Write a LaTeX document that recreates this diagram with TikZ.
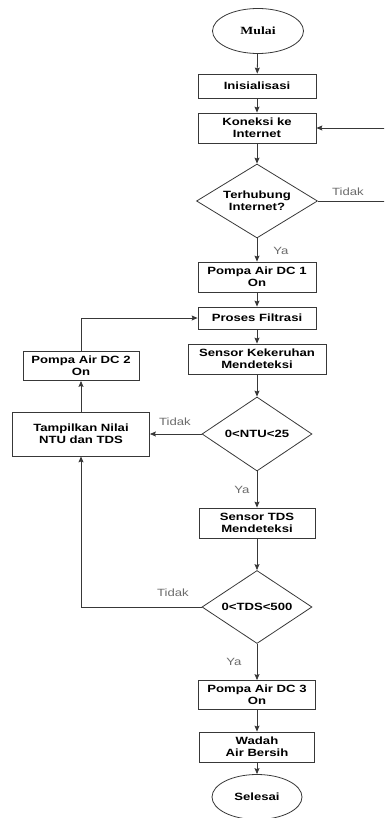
\documentclass[tikz,border=0pt]{standalone}
\usepackage{fontspec}
\usepackage{tikz}
\usetikzlibrary{shapes,arrows,positioning,calc,arrows.meta}
\newfontfamily\kotakfont[FakeStretch=1.25]{Liberation Sans}
\newfontfamily\serifkotak[FakeStretch=1.25]{Liberation Serif}
\definecolor{garis}{gray}{0.22}
\definecolor{teksabu}{gray}{0.42}
\tikzset{
  proses/.style={draw=garis, line width=0.8pt, rectangle, align=center, inner sep=1pt,
    font=\kotakfont\bfseries\fontsize{10.5}{12}\selectfont},
  keputusan/.style={draw=garis, line width=0.8pt, diamond, shape aspect=1.6, align=center,
    inner sep=0pt, font=\kotakfont\bfseries\fontsize{10.5}{12}\selectfont},
  terminal/.style={draw=garis, line width=0.8pt, ellipse, minimum width=91pt, minimum height=45pt,
    font=\kotakfont\bfseries\fontsize{10.5}{12}\selectfont},
  alur/.style={draw=garis, line width=0.8pt, -{Stealth[length=6pt,width=5pt,inset=1pt]}},
  ket/.style={text=teksabu, font=\kotakfont\fontsize{10.5}{12}\selectfont}
}
\begin{document}
\begin{tikzpicture}[x=1pt, y=-1pt]
    \useasboundingbox (0,0) rectangle (384,818);
    \clip (0,0) rectangle (384,818);

    % kolom utama
    \node[terminal, font=\serifkotak\bfseries\fontsize{11}{12}\selectfont] (mulai) at (258,31) {Mulai};
    \node[proses, minimum width=118pt, minimum height=24pt] (init) at (257,86) {Inisialisasi};
    \node[proses, minimum width=118pt, minimum height=30pt] (koneksi) at (257,128) {Koneksi ke\\Internet};
    \node[keputusan, minimum width=121pt, minimum height=74pt] (cekinet) at (257,201) {Terhubung\\Internet?};
    \node[proses, minimum width=118pt, minimum height=30pt] (pompa1) at (257,277) {Pompa Air DC 1\\On};
    \node[proses, minimum width=118pt, minimum height=22pt] (filtrasi) at (257,318) {Proses Filtrasi};
    \node[proses, minimum width=138pt, minimum height=30pt] (kekeruhan) at (257,359) {Sensor Kekeruhan\\Mendeteksi};
    \node[keputusan, minimum width=110pt, minimum height=74pt] (ceknt) at (257,434) {0<NTU<25};
    \node[proses, minimum width=116pt, minimum height=30pt] (tds) at (257,523) {Sensor TDS\\Mendeteksi};
    \node[keputusan, minimum width=110pt, minimum height=73pt] (cektds) at (257,607) {0<TDS<500};
    \node[proses, minimum width=117pt, minimum height=29pt] (pompa3) at (257,695) {Pompa Air DC 3\\On};
    \node[proses, minimum width=115pt, minimum height=30pt] (wadah) at (257,747) {Wadah\\Air Bersih};
    \node[terminal, minimum width=90pt] (selesai) at (257,797) {Selesai};

    % kolom kiri
    \node[proses, minimum width=116pt, minimum height=29pt] (pompa2) at (81,366) {Pompa Air DC 2\\On};
    \node[proses, minimum width=137pt, minimum height=44pt] (tampil) at (81,434) {Tampilkan Nilai\\NTU dan TDS};

    % alur utama
    \draw[alur] (mulai) -- (init);
    \draw[alur] (init) -- (koneksi);
    \draw[alur] (koneksi) -- (cekinet);
    \draw[alur] (cekinet) -- (pompa1);
    \draw[alur] (pompa1) -- (filtrasi);
    \draw[alur] (filtrasi) -- (kekeruhan);
    \draw[alur] (kekeruhan) -- (ceknt);
    \draw[alur] (ceknt) -- (tds);
    \draw[alur] (tds) -- (cektds);
    \draw[alur] (cektds) -- (pompa3);
    \draw[alur] (pompa3) -- (wadah);
    \draw[alur] (wadah) -- (selesai);

    % cabang tidak
    \coordinate (kanan) at (392,201);
    \draw[alur] (cekinet.east) -- (kanan) |- (koneksi.east);
    \draw[alur] (ceknt.west) -- (tampil.east);
    \draw[alur] (cektds.west) -| (tampil.south);
    \draw[alur] (tampil) -- (pompa2);
    \draw[alur] (pompa2.north) |- (filtrasi.west);

    % label
    \node[ket] (ya1) at (281,251) {Ya};
    \node[ket] (ya2) at (242,490) {Ya};
    \node[ket] (ya3) at (234,662) {Ya};
    \node[ket] (tidak1) at (348,192) {Tidak};
    \node[ket] (tidak2) at (175,422) {Tidak};
    \node[ket] (tidak3) at (173,593) {Tidak};
\end{tikzpicture}
\end{document}
